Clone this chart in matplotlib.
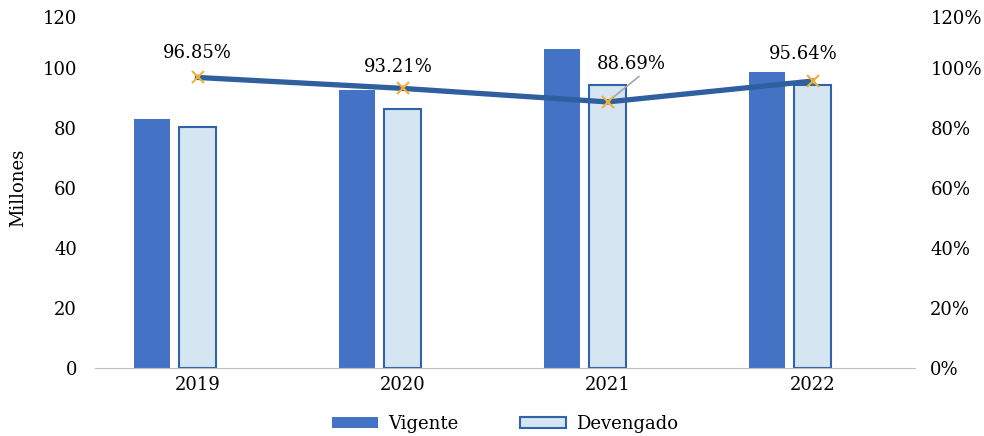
import numpy as np
import matplotlib.pyplot as plt
from matplotlib.transforms import ScaledTranslation

plt.rcParams['font.family'] = ['DejaVu Serif']

years = ['2019', '2020', '2021', '2022']
vigente = [83.0, 92.7, 106.3, 98.7]
devengado = [80.3, 86.4, 94.3, 94.3]
ejecucion = [96.85, 93.21, 88.69, 95.64]
pct_labels = ['96.85%', '93.21%', '88.69%', '95.64%']

fig = plt.figure(figsize=(9.84, 4.36), dpi=100)
ax = fig.add_axes([95/984, 68/436, 820/984, 360/436])
x = np.arange(len(years))
w = 0.176

ax.bar(x - 0.222, vigente, w, color='#4472C4', label='Vigente')
ax.bar(x, devengado, w, color='#D5E5F2', edgecolor='#2F64A8', linewidth=1.5, label='Devengado')

ax.set_xlim(-0.5, 3.5)
ax.set_ylim(0, 120)
ax.set_yticks(np.arange(0, 121, 20))
ax.set_xticks(x)
ax.set_xticklabels(years)
ax.tick_params(axis='both', length=0, labelsize=13)
ax.tick_params(axis='y', pad=13)
ax.tick_params(axis='x', pad=6)
for s in ['top', 'right', 'left']:
    ax.spines[s].set_visible(False)
ax.spines['bottom'].set_color('#BFBFBF')
ax.set_ylabel('Millones', fontsize=13, labelpad=11)

ax2 = ax.twinx()
ax2.plot(x, ejecucion, color='#2F5F9E', linewidth=3.8, marker='x', markersize=8,
         markeredgecolor='#F2B134', markeredgewidth=1.5, zorder=5)
ax2.set_ylim(0, 120)
ax2.set_yticks(np.arange(0, 121, 20))
ax2.set_yticklabels([f'{v}%' for v in range(0, 121, 20)])
ax2.tick_params(axis='y', length=0, labelsize=13, pad=11)
for s in ['top', 'right', 'left', 'bottom']:
    ax2.spines[s].set_visible(False)

offsets = [(0, 11), (-3, 9), (17, 21), (-7, 13)]
for i, (lab, (dx, dy)) in enumerate(zip(pct_labels, offsets)):
    if i == 2:
        ax2.annotate(lab, (x[i], ejecucion[i]), xytext=(dx, dy), textcoords='offset points',
                     ha='center', va='bottom', fontsize=13,
                     arrowprops=dict(arrowstyle='-', color='#A6A6A6', lw=1.2,
                                     shrinkA=1, shrinkB=2, relpos=(0.68, 0)))
    else:
        ax2.annotate(lab, (x[i], ejecucion[i]), xytext=(dx, dy), textcoords='offset points',
                     ha='center', va='bottom', fontsize=13)

# Excel-style: top labels pushed slightly down
for a in (ax, ax2):
    labs = a.get_yticklabels()
    labs[-1].set_transform(labs[-1].get_transform() + ScaledTranslation(0, -6.5/72, fig.dpi_scale_trans))

ax.legend(loc='lower center', bbox_to_anchor=(0.5, -0.225), ncol=2, frameon=False,
          fontsize=13, handlelength=2.55, handleheight=0.55, handletextpad=0.55,
          columnspacing=3.4, bbox_transform=ax.transAxes)

fig.savefig('out.png', dpi=100)
